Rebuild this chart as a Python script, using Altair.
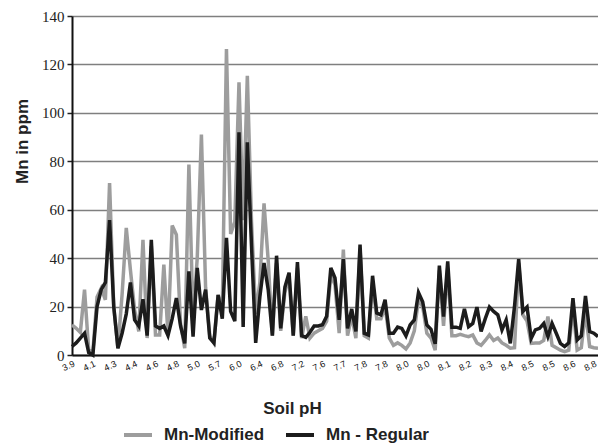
import altair as alt
import pandas as pd

ph_labels = ["3.9", "4.1", "4.3", "4.4", "4.6", "4.8", "5.0", "5.7", "6.0", "6.4",
             "6.8", "7.2", "7.6", "7.7", "7.8", "7.8", "8.0", "8.0", "8.1", "8.2",
             "8.3", "8.4", "8.5", "8.5", "8.6", "8.8"]

mn_regular = [
    3.5, 5, 7, 9, 1, 0, 20, 27, 30, 55.7,
    20, 2.8, 9, 17, 30, 14.5, 12, 23, 8, 47.6,
    12, 11, 12, 8, 15, 23.5, 12, 4.8, 34.5, 7.6,
    36, 18.6, 27, 7, 5, 24.7, 15, 48.4, 18, 14,
    92, 11.6, 87.8, 45, 5, 24, 38, 27, 8, 41,
    11, 28, 34, 8, 38.4, 8, 7.3, 9.4, 12, 12,
    12.5, 16, 36, 31.8, 14.5, 39.6, 11, 19, 9.7, 45.6,
    9, 8.3, 32.7, 17.3, 16.6, 22.8, 9, 9, 11.5, 11,
    7.9, 12.4, 14.5, 25.8, 22, 12.4, 10.6, 4.6, 36.9, 15.9,
    38.7, 11.5, 11.5, 11, 19, 11.7, 13, 19.8, 9.7, 15,
    19.8, 18, 16.6, 10.4, 14.5, 4.8, 20, 39.6, 18, 19.8,
    6.9, 10.4, 11, 13, 7.6, 13, 9, 4.8, 3.5, 5,
    23.5, 6.2, 7.9, 24.4, 9.7, 9, 7.6,
]

mn_modified = [
    12.4, 11, 9.3, 27, 2, 1.4, 24, 27.6, 22.8, 71,
    20, 2.8, 25, 52.5, 35, 18.6, 9.7, 47.6, 7, 45,
    8.3, 8.3, 37.3, 8.3, 53.5, 49.7, 13, 2.8, 78.7, 15,
    40, 91, 28, 8, 5, 25, 18, 126.4, 50, 55,
    112.6, 55.7, 115.3, 55, 17, 30, 62.6, 39, 8, 38,
    10, 26, 32, 8, 36, 7, 16, 7, 9, 10,
    11, 14, 33, 29, 9, 43.5, 8, 16, 7, 44,
    8, 7, 30, 15, 15, 20, 7, 4, 5, 4,
    2.5, 5, 10, 23, 20, 9, 7, 2, 35, 12,
    36, 8, 8, 8.5, 8, 7.6, 8.3, 5, 4, 6,
    8.3, 6, 7, 5, 4, 2.8, 3, 38, 16.6, 14,
    4.8, 5, 5, 6, 15.9, 4, 3, 2, 1.4, 2,
    20, 2, 3, 18, 3.5, 3, 2.8,
]

series_names = ["Mn-Modified", "Mn - Regular"]

n = len(mn_regular)
idx = list(range(n))
df = pd.DataFrame({
    "idx": idx + idx,
    "value": mn_modified + mn_regular,
    "series": [series_names[0]] * n + [series_names[1]] * n,
})

label_expr = "[" + ",".join(f"'{l}'" for l in ph_labels) + "][round(datum.value / 5)]"

color = alt.Color(
    "series:N",
    scale=alt.Scale(domain=series_names, range=["#9d9d9d", "#1c1c1c"]),
    legend=alt.Legend(
        orient="none", legendX=50, legendY=403, direction="horizontal",
        title=None, symbolType="stroke", symbolStrokeWidth=4, symbolSize=784,
        labelFont="Liberation Sans", labelFontSize=17, labelFontWeight="bold",
        labelColor="#222222", labelOffset=10, columnPadding=13, padding=0,
    ),
)

x = alt.X(
    "idx:Q",
    scale=alt.Scale(domain=[0, n - 1], nice=False, zero=False),
    axis=alt.Axis(
        values=list(range(0, 5 * len(ph_labels), 5)), labelExpr=label_expr,
        labelAngle=-25, labelFontSize=9, labelFont="Liberation Sans",
        labelColor="#111111", ticks=False, grid=False, domainColor="#111111",
        domainWidth=2, labelPadding=4, title="Soil pH", titleFont="Liberation Sans",
        titleFontSize=17, titleFontWeight="bold", titleX=220, titleY=53,
        titleBaseline="middle", titleAlign="center", titleColor="#222222",
    ),
)

y = alt.Y(
    "value:Q",
    scale=alt.Scale(domain=[0, 140], nice=False),
    axis=alt.Axis(
        values=[0, 20, 40, 60, 80, 100, 120, 140], labelFont="Liberation Serif, serif",
        labelFontSize=15, labelColor="#222222", tickSize=5, tickColor="#222222",
        tickWidth=1.5, domainColor="#111111", domainWidth=2, grid=True,
        gridColor="#7f7f7f", gridWidth=1.5, labelPadding=3, title="Mn in ppm",
        titleFont="Liberation Sans", titleFontSize=17, titleFontWeight="bold",
        titleX=-50, titleY=125, titleBaseline="middle", titleAlign="center",
        titleColor="#222222",
    ),
)

base = alt.Chart(df)
gray = base.transform_filter(alt.datum.series == series_names[0]).mark_line(strokeWidth=3.5).encode(x=x, y=y, color=color)
black = base.transform_filter(alt.datum.series == series_names[1]).mark_line(strokeWidth=3.5).encode(x=x, y=y, color=color)

chart = alt.layer(gray, black).properties(
    width=526, height=339,
    padding={"left": 72, "top": 16, "right": 0, "bottom": 91},
    autosize=alt.AutoSizeParams(type="none"),
).configure_view(stroke=None).configure(background="white")

chart.save("out.html", embed_options={"renderer": "svg", "actions": False})
